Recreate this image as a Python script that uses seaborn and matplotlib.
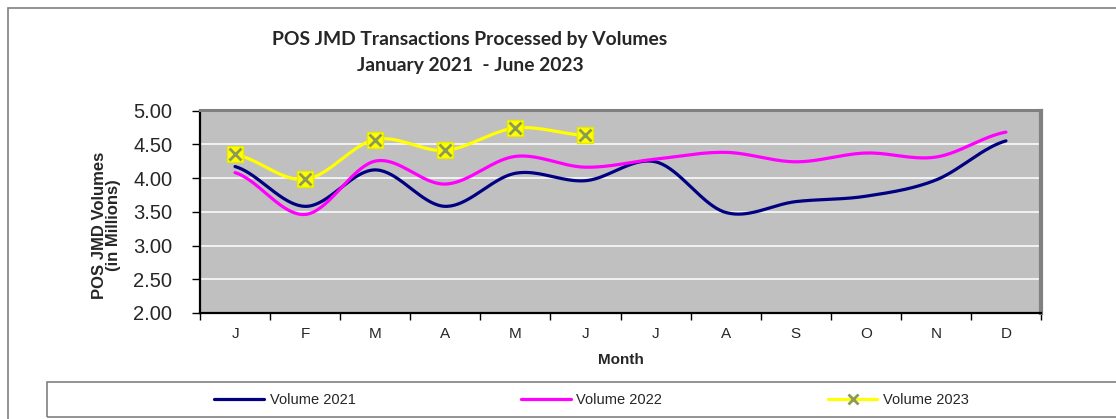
import numpy as np
import pandas as pd
import seaborn as sns
import matplotlib.pyplot as plt
from matplotlib.lines import Line2D
from matplotlib.patches import Rectangle

# Monthly POS JMD volumes (millions)
months = ['J', 'F', 'M', 'A', 'M', 'J', 'J', 'A', 'S', 'O', 'N', 'D']
vol_2021 = [4.17, 3.58, 4.12, 3.58, 4.07, 3.96, 4.24, 3.49, 3.65, 3.73, 3.97, 4.55]
vol_2022 = [4.08, 3.46, 4.25, 3.91, 4.32, 4.16, 4.28, 4.38, 4.24, 4.37, 4.31, 4.68]
vol_2023 = [4.35, 3.98, 4.57, 4.41, 4.74, 4.63]
series_names = ['Volume 2021', 'Volume 2022', 'Volume 2023']
colors = ['#000080', '#FF00FF', '#FFFF00']


def smooth(vals, n=40):
    # Excel-like smoothed line (Catmull-Rom through the points)
    p = np.array(vals, dtype=float)
    x = np.arange(len(p), dtype=float)
    xs, ys = [], []
    for i in range(len(p) - 1):
        p0 = p[i - 1] if i > 0 else p[i]
        p3 = p[i + 2] if i + 2 < len(p) else p[i + 1]
        c1 = p[i] + (p[i + 1] - p0) / 6
        c2 = p[i + 1] - (p3 - p[i]) / 6
        t = np.linspace(0, 1, n)
        ys.append((1 - t) ** 3 * p[i] + 3 * (1 - t) ** 2 * t * c1 + 3 * (1 - t) * t ** 2 * c2 + t ** 3 * p[i + 1])
        xs.append(x[i] + t)
    return np.concatenate(xs), np.concatenate(ys)


frames = []
for name, vals in zip(series_names, [vol_2021, vol_2022, vol_2023]):
    sx, sy = smooth(vals)
    frames.append(pd.DataFrame({'x': sx, 'y': sy, 'series': name}))
curves = pd.concat(frames, ignore_index=True)

sns.set_style('white')
plt.rcParams['font.family'] = ['Liberation Sans', 'DejaVu Sans']

fig = plt.figure(figsize=(11.16, 4.19), dpi=100)
ax = fig.add_axes([200 / 1116, 1 - 313 / 419, 841 / 1116, 202.5 / 419])
ax.set_facecolor('#C0C0C0')

for y in [2.5, 3.0, 3.5, 4.0, 4.5]:
    ax.axhline(y, color='white', lw=1.1, zorder=1)

sns.lineplot(data=curves, x='x', y='y', hue='series', palette=dict(zip(series_names, colors)),
             sort=False, estimator=None, lw=2.3, legend=False, ax=ax, zorder=3)

x23 = np.arange(len(vol_2023))
ax.plot(x23, vol_2023, ls='none', marker='s', ms=11, mfc='#FFFF00', mec='#E8E800', zorder=4)
ax.plot(x23, vol_2023, ls='none', marker='x', ms=9, mew=2, color='#8C9A55', zorder=5)

ax.set_xlim(-0.5, 11.5)
ax.set_ylim(2.0, 5.0)
ax.set_yticks(np.arange(2.0, 5.01, 0.5))
ax.set_yticklabels([f'{v:.2f}' for v in np.arange(2.0, 5.01, 0.5)], fontsize=14.5)
ax.set_xticks(np.arange(-0.5, 12, 1))
ax.set_xticklabels([''] * 13)
ax.set_xticks(np.arange(12), minor=True)
ax.set_xticklabels(months, minor=True, fontsize=11)
ax.tick_params(axis='x', which='major', direction='out', length=5, width=1, color='black', bottom=True)
ax.tick_params(axis='x', which='minor', length=0, pad=10, bottom=True)
ax.tick_params(axis='y', direction='out', length=6, width=1, color='black', pad=14, left=True)

for side in ['left', 'bottom']:
    ax.spines[side].set_color('black')
    ax.spines[side].set_linewidth(1.6)
ax.spines['top'].set_color('#808080')
ax.spines['top'].set_linewidth(2.2)
ax.spines['right'].set_color('#808080')
ax.spines['right'].set_linewidth(3)

ax.set_xlabel('Month', fontsize=11, fontweight='bold', labelpad=9)
ax.set_ylabel('POS JMD Volumes\n(in Millions)', fontsize=12, fontweight='bold', linespacing=0.9)
ax.yaxis.set_label_coords(-0.094, 0.435)

fig.text(470 / 1116, 1 - 40 / 419, 'POS JMD Transactions Processed by Volumes', ha='center', va='center',
         fontsize=13.9, fontweight='bold', family=['Lato', 'DejaVu Sans'])
fig.text(470 / 1116, 1 - 65 / 419, 'January 2021  - June 2023', ha='center', va='center',
         fontsize=13.9, fontweight='bold', family=['Lato', 'DejaVu Sans'])

# outer chart frame and legend box
fig.add_artist(Rectangle((8 / 1116, -0.2), 1.2, 1.2 - 8 / 419, transform=fig.transFigure,
                         fill=False, edgecolor='#808080', lw=1.2))
fig.add_artist(Rectangle((47 / 1116, 1 - 417 / 419), 1.2, 35 / 419, transform=fig.transFigure,
                         fill=False, edgecolor='#808080', lw=1.2))

handles = [
    Line2D([], [], color=colors[0], lw=2.3),
    Line2D([], [], color=colors[1], lw=2.3),
    Line2D([], [], color=colors[2], lw=2.3, marker='x', ms=7, mew=2, mec='#8C9A55'),
]
fig.legend(handles, series_names, loc='center left', bbox_to_anchor=(201 / 1116, 1 - 400 / 419),
           ncol=3, frameon=False, fontsize=10.5, handlelength=3.4, handletextpad=0.4,
           columnspacing=11.35)

fig.savefig('out.png', dpi=100)
